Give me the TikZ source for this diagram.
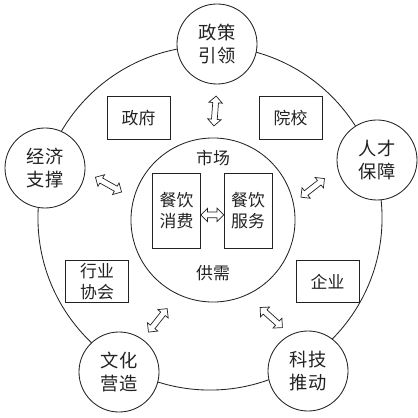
\documentclass[tikz,border=0pt]{standalone}
\usepackage{fontspec}
\usepackage{xcolor}
\usepackage{tikz}
\usetikzlibrary{shapes.arrows}
\newfontfamily\cjk{Noto Sans CJK SC}
\definecolor{ink}{HTML}{222222}
\tikzset{
  ring/.style={draw=ink, circle, line width=0.6pt, minimum size=8.6cm, inner sep=0pt},
  hub/.style={draw=ink, circle, line width=0.6pt, minimum size=4.1cm, inner sep=0pt},
  factor/.style={draw=ink, circle, fill=white, line width=0.6pt, minimum size=2cm, inner sep=0pt,
    align=center, text=ink, font=\cjk\fontsize{13pt}{16pt}\selectfont},
  actor/.style={draw=ink, line width=0.6pt, minimum width=1.575cm, minimum height=1.06cm, inner sep=0pt,
    align=center, text=ink, font=\cjk\fontsize{12pt}{14.5pt}\selectfont},
  side/.style={draw=ink, line width=0.6pt, minimum width=1.2cm, minimum height=1.875cm, inner sep=0pt,
    align=center, text=ink, font=\cjk\fontsize{12pt}{14.5pt}\selectfont},
  twoway/.style={draw=ink, double arrow, line width=0.5pt, inner sep=1.8pt, double arrow head extend=2.7pt,
    minimum height=0.75cm, sloped},
  lab/.style={text=ink, font=\cjk\fontsize{12pt}{14pt}\selectfont},
}

\begin{document}
\begin{tikzpicture}[x=0.025cm, y=-0.025cm]
  \useasboundingbox (0,0) rectangle (418,418);
  % rings
  \node[ring] (ring) at (210,218) {};
  \node[hub] (shichang) at (213,220) {};
  \node[lab] (market) at (213,158) {市场};
  \node[lab] (supply) at (213,273) {供需};
  % market sides
  \node[side] (xiaofei) at (176.5,210.5) {餐饮\\消费};
  \node[side] (fuwu) at (248,210.5) {餐饮\\服务};
  % actors
  \node[actor] (zhengfu) at (138.5,118) {政府};
  \node[actor] (yuanxiao) at (290.5,118) {院校};
  \node[actor] (xiehui) at (97,281.5) {行业\\协会};
  \node[actor] (qiye) at (327.5,281.5) {企业};
  % five factors
  \node[factor] (zhengce) at (217,44) {政策\\引领};
  \node[factor] (rencai) at (377,160) {人才\\保障};
  \node[factor] (keji) at (308,371) {科技\\推动};
  \node[factor] (wenhua) at (119,372) {文化\\营造};
  \node[factor] (jingji) at (45,168) {经济\\支撑};
  % two-way arrows
  \path (zhengce.south) -- node[twoway] (a1) {} (shichang.north);
  \path (rencai.192) -- node[twoway, pos=0.565] (a2) {} (shichang.12);
  \path (keji.116) -- node[twoway, pos=0.435] (a3) {} (shichang.-66);
  \path (wenhua.54) -- node[twoway, pos=0.425] (a4) {} (shichang.245);
  \path (jingji.-5) -- node[twoway, pos=0.483] (a5) {} (shichang.165);
  \path ([yshift=-0.11cm]xiaofei.east) -- node[twoway, minimum height=0.57cm] (a6) {} ([yshift=-0.11cm]fuwu.west);
\end{tikzpicture}
\end{document}
